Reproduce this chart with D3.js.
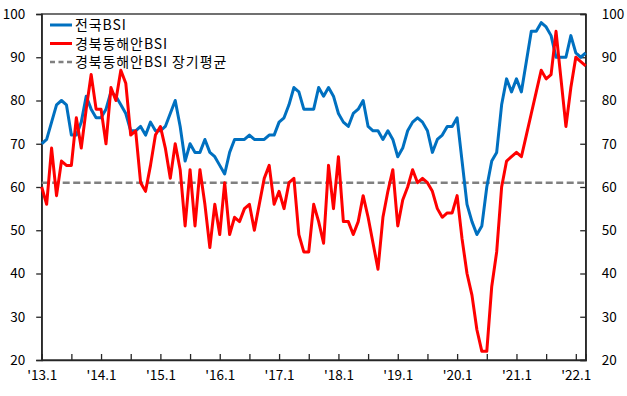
<!DOCTYPE html>
<html><head><meta charset="utf-8">
<script src="https://cdn.jsdelivr.net/npm/d3@7/dist/d3.min.js"></script>
<style>
body{margin:0;background:#fff;}
svg{display:block;}
text{font-family:"Noto Sans CJK KR","Noto Sans",sans-serif;fill:#000;}
</style></head><body>
<svg id="c" width="627" height="396"></svg>
<script>
// ---- data ----
const startYear = 2013;
const nMonths = 111; // 2013.1 .. 2022.3
const months = [];
for (let i = 0; i < nMonths; i++) months.push((startYear + Math.floor(i/12)) + "." + (i%12+1));

const nationalBSI = [
 70,71,75,79,80,79,72,72,75,81,78,76,
 76,78,82,81,79,77,73,73,74,72,75,73,
 73,74,77,80,74,66,70,68,68,71,68,67,
 65,63,68,71,71,71,72,71,71,71,72,72,
 75,76,79,83,82,78,78,78,83,81,83,81,
 77,75,74,77,78,80,74,73,73,71,73,71,
 67,69,73,75,76,75,73,68,71,72,74,74,
 76,66,56,52,49,51,60,66,68,79,85,82,
 85,82,89,96,96,98,97,95,90,90,90,95,
 91,90,91];
const gbEastBSI = [
 60,56,69,58,66,65,65,76,69,78,86,78,
 78,70,83,80,87,84,72,73,61,59,65,72,
 74,69,62,70,64,51,64,51,64,56,46,56,
 49,61,49,53,52,55,56,50,56,62,65,56,
 59,55,61,62,49,45,45,56,52,47,65,55,
 67,52,52,49,52,58,53,47,41,53,59,64,
 51,57,60,64,61,62,61,59,55,53,54,54,
 58,48,40,35,27,22,22,37,45,60,66,67,
 68,67,72,77,82,87,85,86,96,85,74,83,
 90,89,88];
const gbEastAvg = 61;
const yTicks = [20,30,40,50,60,70,80,90,100];
const xTickLabels = ["'13.1","'14.1","'15.1","'16.1","'17.1","'18.1","'19.1","'20.1","'21.1","'22.1"];
const legendLabels = ["전국BSI","경북동해안BSI","경북동해안BSI 장기평균"];

// ---- layout ----
const L = 41.7, R = 585.7, T = 14, B = 360;
const svg = d3.select("#c");
const x = d3.scaleLinear().domain([0, nMonths-1]).range([L, R]);
const y = d3.scaleLinear().domain([20, 100]).range([B, T]);
const axisColor = "#262626";

// frame
svg.append("rect").attr("x", L).attr("y", T).attr("width", R-L).attr("height", B-T)
  .attr("fill","none").attr("stroke", axisColor).attr("stroke-width", 1.3);

// left axis
const gl = svg.append("g").attr("transform", `translate(${L},0)`)
  .call(d3.axisLeft(y).tickValues(yTicks).tickSize(5.5).tickPadding(11));
// right axis (inward ticks)
const gr = svg.append("g").attr("transform", `translate(${R},0)`)
  .call(d3.axisRight(y).tickValues(yTicks).tickSize(-5.5).tickPadding(16));
// bottom axis
const xTickVals = d3.range(0, nMonths, 6);
const gb = svg.append("g").attr("transform", `translate(0,${B})`)
  .call(d3.axisBottom(x).tickValues(xTickVals).tickSize(-6).tickPadding(12)
    .tickFormat(d => d % 12 === 0 ? xTickLabels[d/12] : ""));

[gl, gr, gb].forEach(g => {
  g.select(".domain").attr("stroke", axisColor).attr("stroke-width", 1.3);
  g.selectAll(".tick line").attr("stroke", axisColor).attr("stroke-width", 1.3);
  g.selectAll(".tick text").attr("font-size", 13.5).attr("fill", "#000")
    .attr("font-family", '"Noto Sans CJK KR","Noto Sans",sans-serif');
});
gb.selectAll(".tick text").attr("dy", "0.6em");

// long-term average dashed line
svg.append("line").attr("x1", x(0)).attr("x2", x(nMonths-1))
  .attr("y1", y(gbEastAvg)).attr("y2", y(gbEastAvg))
  .attr("stroke", "#808080").attr("stroke-width", 2.5).attr("stroke-dasharray", "7,3.5");

const line = d3.line().x((d,i) => x(i)).y(d => y(d)).curve(d3.curveLinear);
svg.append("path").datum(nationalBSI).attr("d", line)
  .attr("fill","none").attr("stroke","#0070C0").attr("stroke-width",3).attr("stroke-linejoin","round");
svg.append("path").datum(gbEastBSI).attr("d", line)
  .attr("fill","none").attr("stroke","#FF0000").attr("stroke-width",3).attr("stroke-linejoin","round");

// legend
const legY = [25, 43.5, 62];
const legStyle = [
  {c:"#0070C0", w:3, dash:null},
  {c:"#FF0000", w:3, dash:null},
  {c:"#808080", w:2.5, dash:"5,3.5"}
];
legendLabels.forEach((t, i) => {
  svg.append("line").attr("x1", 50).attr("x2", 72).attr("y1", legY[i]).attr("y2", legY[i])
    .attr("stroke", legStyle[i].c).attr("stroke-width", legStyle[i].w)
    .attr("stroke-dasharray", legStyle[i].dash);
  svg.append("text").attr("x", 75).attr("y", legY[i]).attr("dy", "0.36em")
    .attr("font-size", 14).attr("letter-spacing", 0.9).text(t);
});
</script>
</body></html>
